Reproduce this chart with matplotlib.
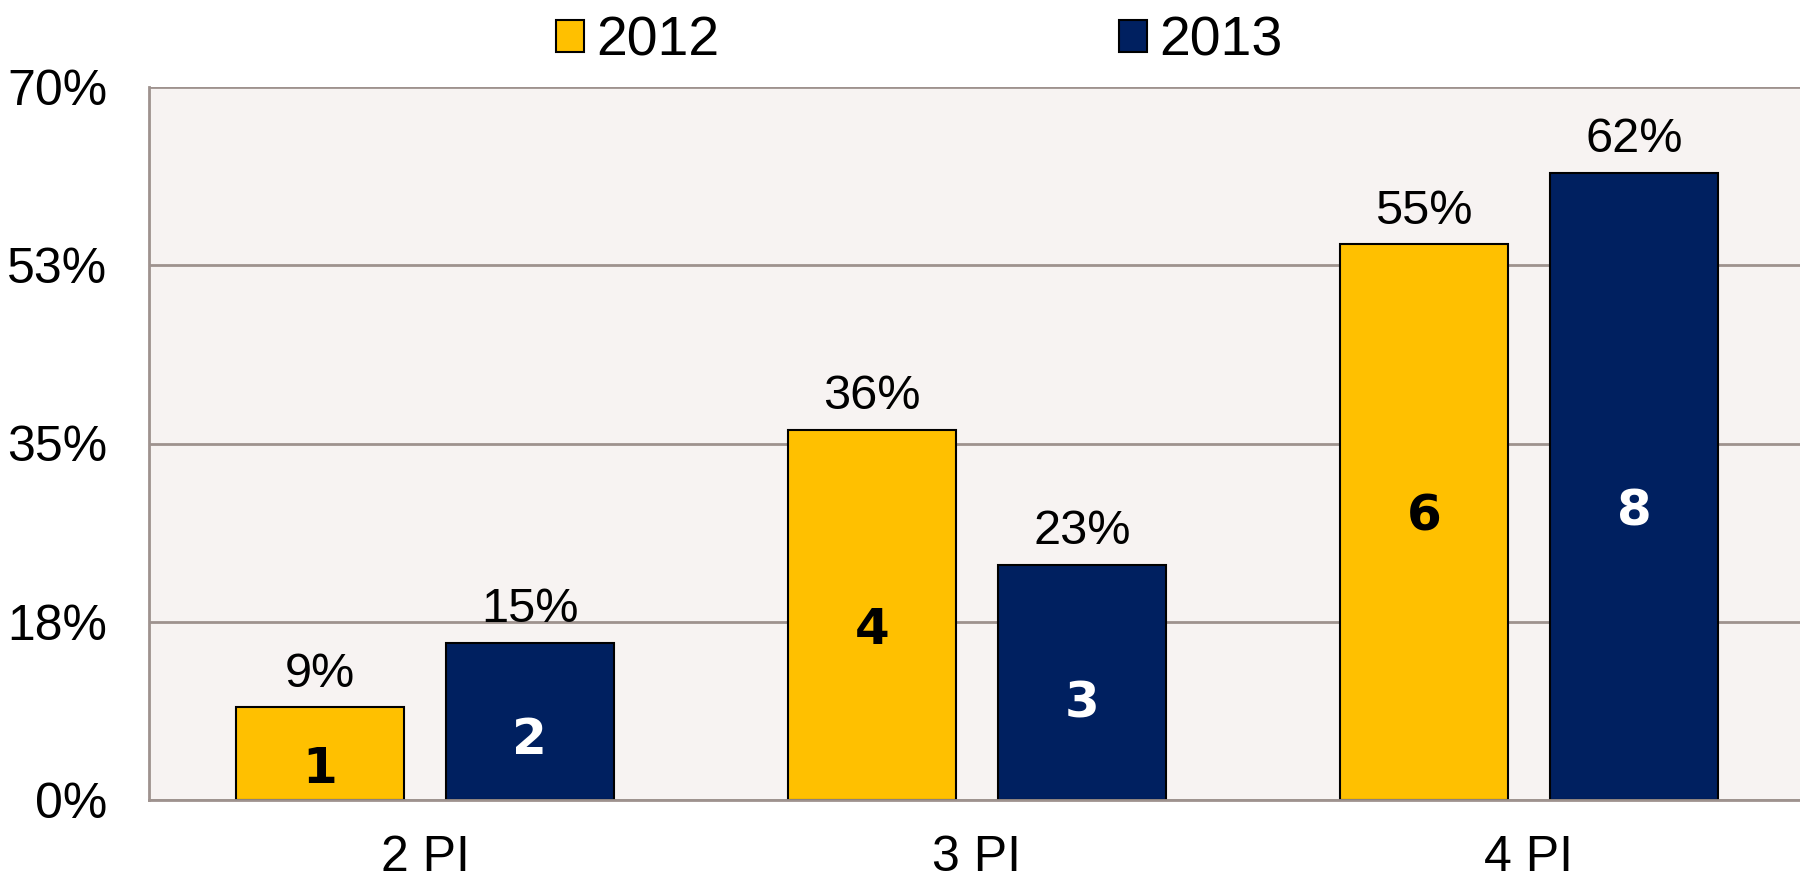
import matplotlib
matplotlib.use("Agg")
import matplotlib.pyplot as plt
import numpy as np

categories = ["2 PI", "3 PI", "4 PI"]
series_names = ["2012", "2013"]
counts_2012 = [1, 4, 6]
counts_2013 = [2, 3, 8]
totals = [11, 13]
pct_2012 = [c / totals[0] * 100 for c in counts_2012]
pct_2013 = [c / totals[1] * 100 for c in counts_2013]
yticks = [0, 17.5, 35, 52.5, 70]
ytick_labels = ["0%", "18%", "35%", "53%", "70%"]

colors = ["#FFC000", "#002060"]
count_colors = ["black", "white"]
# relative vertical placement of count labels inside bars (style)
count_pos = [[0.33, 0.46, 0.51], [0.38, 0.41, 0.46]]

plt.rcParams['font.family'] = ['Liberation Sans', 'DejaVu Sans']
fig = plt.figure(figsize=(18, 8.76), dpi=100)
ax = fig.add_axes([149/1800, 1 - 800/876, (1805-149)/1800, (800-87)/876])
ax.set_facecolor("#F7F3F2")

x = np.arange(len(categories))
w = 0.303
offs = [-0.19, 0.19]
allp = [pct_2012, pct_2013]
allc = [counts_2012, counts_2013]
for i in range(2):
    bars = ax.bar(x + offs[i], allp[i], width=w, color=colors[i], edgecolor="black",
                  linewidth=1.5, label=series_names[i], zorder=3)
    for j, b in enumerate(bars):
        h = b.get_height()
        ax.annotate(f"{h:.0f}%", (b.get_x() + b.get_width()/2, h), xytext=(0, 24),
                    textcoords="offset points", ha="center", va="center", fontsize=35, zorder=4)
        ax.text(b.get_x() + b.get_width()/2, h * count_pos[i][j], str(allc[i][j]),
                ha="center", va="center", fontsize=36, fontweight="bold",
                color=count_colors[i], family="DejaVu Sans", zorder=4)

ax.set_xlim(-0.5, 2.5)
ax.set_ylim(0, 70)
ax.set_yticks(yticks)
ax.set_yticklabels(ytick_labels)
ax.set_xticks(x)
ax.set_xticklabels(categories)
ax.tick_params(axis="y", length=0, pad=30, labelsize=36)
ax.tick_params(axis="x", length=0, pad=25, labelsize=36)
ax.yaxis.grid(True, color="#9E928E", linewidth=2, zorder=1)
ax.set_axisbelow(True)
for s in ["top", "right"]:
    ax.spines[s].set_visible(False)
ax.spines["left"].set_color("#9E928E")
ax.spines["left"].set_linewidth(2)
ax.spines["bottom"].set_color("#9E928E")
ax.spines["bottom"].set_linewidth(2)
ax.spines["bottom"].set_zorder(5)

leg = fig.legend(loc="center", bbox_to_anchor=(919/1800, 1 - 42/876), ncol=2, frameon=False,
                 fontsize=40, handlelength=0.5, handleheight=0.5, handletextpad=0.22,
                 columnspacing=7.2)
for p in leg.get_patches():
    p.set_linewidth(1.5)

fig.savefig("out.png", dpi=100)
